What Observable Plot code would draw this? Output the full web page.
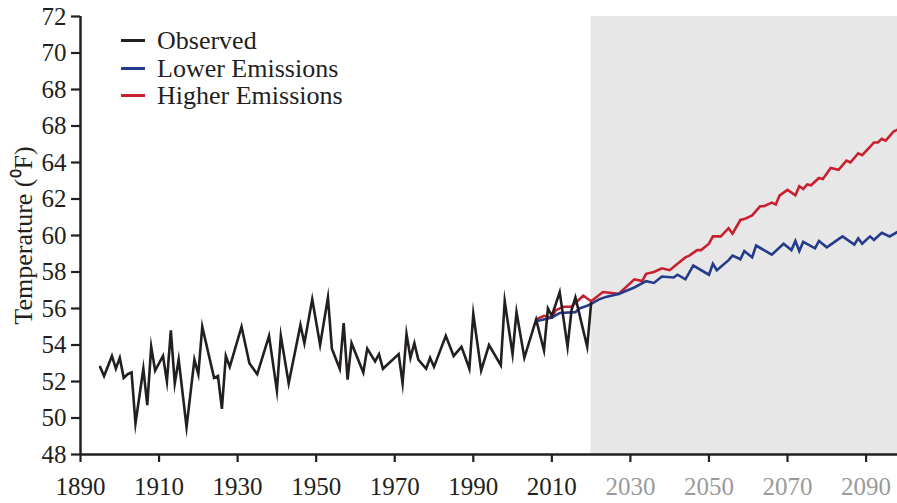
<!DOCTYPE html>
<html><head><meta charset="utf-8">
<script src="https://cdn.jsdelivr.net/npm/d3@7"></script>
<script src="https://cdn.jsdelivr.net/npm/@observablehq/plot@0.6"></script>
<style>
body{margin:0;background:#fff;}
#wrap{position:relative;width:897px;height:503px;font-family:"Liberation Serif",serif;}
#legend{position:absolute;left:121px;top:27px;font-size:26px;color:#231f20;line-height:27.5px;}
.row{display:flex;align-items:center;white-space:nowrap;}
.sw{width:24px;height:2.6px;margin-right:12px;}
</style></head>
<body>
<div id="wrap"></div>
<script>
// Observed annual temperature (vertices)
const obsYear = [1895,1896,1898,1899,1900,1901,1902,1903,1904,1906,1907,1908,1909,1911,1912,1913,1914,1915,1917,1919,1920,1921,1924,1925,1926,1927,1928,1931,1933,1935,1938,1940,1941,1943,1946,1947,1949,1951,1953,1954,1956,1957,1958,1959,1962,1963,1965,1966,1967,1971,1972,1973,1974,1975,1976,1978,1979,1980,1983,1985,1987,1989,1990,1992,1994,1997,1998,2000,2001,2003,2006,2008,2009,2010,2012,2014,2015,2016,2019,2020];
const obsTemp = [52.8,52.3,53.4,52.7,53.3,52.2,52.4,52.5,49.7,52.7,50.7,53.9,52.6,53.4,52.0,54.8,51.9,53.2,49.5,53.2,52.4,55.0,52.2,52.3,50.5,53.4,52.8,55.0,53.0,52.4,54.5,51.5,54.5,51.9,55.1,54.1,56.5,54.0,56.6,53.8,52.7,55.2,52.1,54.1,52.5,53.8,53.1,53.5,52.7,53.5,51.9,54.6,53.3,54.1,53.2,52.7,53.3,52.8,54.5,53.4,53.9,52.7,55.7,52.6,54.0,52.9,56.4,53.5,55.8,53.3,55.4,53.7,56.0,55.6,56.9,53.9,55.9,56.6,53.9,56.3];

// Lower emissions projection
const lowYear = [2006,2009,2010,2012,2016,2017,2019,2020,2022,2024,2027,2031,2034,2036,2038,2041,2042,2044,2046,2050,2051,2052,2055,2056,2058,2059,2061,2062,2066,2069,2071,2072,2073,2074,2077,2078,2080,2084,2087,2088,2089,2091,2092,2094,2096,2098];
const lowTemp = [55.3,55.45,55.5,55.75,55.8,56.0,56.15,56.25,56.5,56.65,56.8,57.15,57.5,57.4,57.75,57.7,57.85,57.6,58.35,57.85,58.45,58.1,58.65,58.9,58.7,59.15,58.8,59.45,58.95,59.55,59.2,59.7,59.15,59.65,59.3,59.7,59.35,59.95,59.5,59.85,59.55,59.95,59.75,60.15,59.95,60.2];

// Higher emissions projection
const highYear = [2006,2008,2010,2011,2013,2015,2016,2018,2020,2023,2027,2031,2033,2034,2036,2038,2040,2042,2044,2045,2047,2048,2050,2051,2053,2055,2056,2058,2059,2061,2063,2064,2066,2067,2068,2070,2072,2073,2074,2075,2076,2078,2079,2081,2083,2085,2086,2088,2089,2091,2092,2093,2094,2095,2097,2098];
const highTemp = [55.4,55.6,55.5,55.9,56.1,56.1,56.3,56.7,56.4,56.9,56.8,57.6,57.5,57.9,58.0,58.2,58.1,58.45,58.8,58.9,59.2,59.2,59.55,59.95,59.95,60.4,60.1,60.85,60.9,61.1,61.6,61.6,61.8,61.7,62.2,62.5,62.2,62.7,62.55,62.8,62.75,63.15,63.1,63.7,63.6,64.1,64.0,64.5,64.4,64.85,65.1,65.1,65.3,65.2,65.7,65.8];

// Axis ticks and labels (as printed on the original)
const xStart = 1890, xEnd = 2098, shadeStart = 2020;
const yMin = 48, yMax = 72;
const xTicksObserved = [1890,1910,1930,1950,1970,1990,2010];
const xTicksFuture = [2030,2050,2070,2090];
const yTicks = [48,50,52,54,56,58,60,62,64,66,68,70,72];
const yTickLabels = ["48","50","52","54","56","58","60","62","64","68","68","70","72"];

const seriesNames = ["Observed","Lower Emissions","Higher Emissions"];
const seriesColors = ["#231f20","#253b8c","#c8202f"];

const toRows = (ys, ts) => ys.map((y, i) => ({year: y, temp: ts[i]}));
const obs = toRows(obsYear, obsTemp);
const low = toRows(lowYear, lowTemp);
const high = toRows(highYear, highTemp);

const font = "'Liberation Serif', serif";
const lineOpts = {x: "year", y: "temp", strokeWidth: 2.6, strokeLinejoin: "miter", strokeMiterlimit: 10};

const chart = Plot.plot({
  width: 897, height: 503,
  marginLeft: 80, marginRight: 0, marginTop: 16, marginBottom: 49,
  style: {fontFamily: font, fontSize: "25px", color: "#231f20", background: "transparent", overflow: "visible"},
  x: {domain: [xStart, xEnd]},
  y: {domain: [yMin, yMax]},
  marks: [
    Plot.rect([{x1: shadeStart, x2: xEnd, y1: yMin, y2: yMax}], {x1: "x1", x2: "x2", y1: "y1", y2: "y2", fill: "#e7e7e7"}),
    Plot.lineY(high, {...lineOpts, stroke: seriesColors[2]}),
    Plot.lineY(low, {...lineOpts, stroke: seriesColors[1]}),
    Plot.lineY(obs, {...lineOpts, stroke: seriesColors[0]}),
    Plot.ruleX([xStart], {y1: yMin, y2: yMax, stroke: "#231f20", strokeWidth: 2.5}),
    Plot.ruleY([yMin], {stroke: "#231f20", strokeWidth: 2.5}),
    Plot.axisY(yTicks, {
      tickSize: 9, tickPadding: 5, strokeWidth: 2.2, stroke: "#231f20", fill: "#231f20", fontSize: 25,
      tickFormat: d => yTickLabels[yTicks.indexOf(d)],
      label: null
    }),
    Plot.axisY({
      ticks: [], tickSize: 0, fill: "#231f20", fontSize: 26,
      label: "Temperature (\u2070F)", labelAnchor: "center", labelArrow: "none", labelOffset: 67
    }),
    Plot.axisX(xTicksObserved, {tickSize: 8, tickPadding: 15, strokeWidth: 2.2, stroke: "#231f20", fill: "#231f20", fontSize: 25, tickFormat: d => String(d), label: null}),
    Plot.axisX(xTicksFuture, {tickSize: 8, tickPadding: 15, strokeWidth: 2.2, stroke: "#231f20", fill: "#9a9a9a", fontSize: 25, tickFormat: d => String(d), label: null})
  ]
});

const wrap = document.getElementById("wrap");
wrap.appendChild(chart);

const legend = document.createElement("div");
legend.id = "legend";
seriesNames.forEach((name, i) => {
  const row = document.createElement("div");
  row.className = "row";
  const sw = document.createElement("span");
  sw.className = "sw";
  sw.style.background = seriesColors[i];
  const t = document.createElement("span");
  t.textContent = name;
  row.appendChild(sw); row.appendChild(t);
  legend.appendChild(row);
});
wrap.appendChild(legend);
</script>
</body></html>
